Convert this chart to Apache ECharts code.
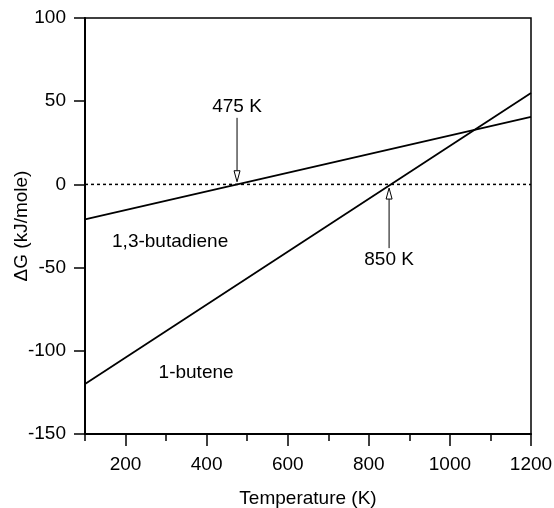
<!DOCTYPE html>
<html>
<head>
<meta charset="utf-8">
<script src="https://cdn.jsdelivr.net/npm/echarts@6/dist/echarts.min.js"></script>
<style>
  html, body { margin: 0; padding: 0; background: #fff; }
  #chart { width: 554px; height: 508px; }
</style>
</head>
<body>
<div id="chart"></div>
<script>
// data
var temps = [100, 1200];
var butadiene = [-21, 40.6];
var butene = [-120, 55];
var zeroLine = [0, 0];

var majorTicks = [200, 400, 600, 800, 1000, 1200];
var minorTicks = [100, 300, 500, 700, 900, 1100];

// arrows: [T, tail value, tip value]
var arrows = [
  [475, 40, 1.6],
  [850, -38.3, -2.2]
];
// text notes: [T, value, text]
var notes = [
  [475, 46.7, "475 K"],
  [850, -45.5, "850 K"],
  [310, -34.5, "1,3-butadiene"],
  [374, -113.5, "1-butene"]
];

var font = "Liberation Sans, Arial, sans-serif";
var fs = 19;

function pairs(xs, ys) {
  return xs.map(function (x, i) { return [x, ys[i]]; });
}

var chart = echarts.init(document.getElementById("chart"));

chart.setOption({
  animation: false,
  textStyle: { fontFamily: font, color: "#000" },
  grid: {
    left: 85,
    right: 23,
    top: 18,
    bottom: 74,
    containLabel: false,
    outerBoundsMode: "none",
    show: true,
    borderColor: "#000",
    borderWidth: 1.5
  },
  xAxis: [
    {
      type: "value",
      min: 100,
      max: 1200,
      interval: 100,
      name: "Temperature (K)",
      nameLocation: "middle",
      nameGap: 55,
      nameMoveOverlap: false,
      nameTextStyle: { fontSize: fs, color: "#000", fontFamily: font },
      axisLine: { onZero: false, lineStyle: { color: "#000", width: 2 } },
      axisTick: {
        inside: false,
        length: 12,
        customValues: majorTicks,
        lineStyle: { color: "#000", width: 1.5 }
      },
      axisLabel: {
        customValues: majorTicks,
        fontSize: fs,
        color: "#000",
        fontFamily: font,
        margin: 21,
        formatter: function (v) { return String(v); }
      },
      splitLine: { show: false }
    },
    {
      type: "value",
      min: 100,
      max: 1200,
      interval: 100,
      position: "bottom",
      axisLine: { show: false, onZero: false },
      axisTick: {
        length: 7,
        customValues: minorTicks,
        lineStyle: { color: "#000", width: 1.5 }
      },
      axisLabel: { show: false },
      splitLine: { show: false }
    }
  ],
  yAxis: {
    type: "value",
    min: -150,
    max: 100,
    interval: 50,
    name: "\u0394G (kJ/mole)",
    nameLocation: "middle",
    nameGap: 54,
    nameMoveOverlap: false,
    nameRotate: 90,
    nameTextStyle: { fontSize: fs, color: "#000", fontFamily: font },
    axisLine: { lineStyle: { color: "#000", width: 2 } },
    axisTick: { length: 11, lineStyle: { color: "#000", width: 1.5 } },
    axisLabel: { fontSize: fs, color: "#000", fontFamily: font, margin: 19 },
    splitLine: { show: false }
  },
  series: [
    {
      type: "line",
      data: pairs(temps, zeroLine),
      symbol: "none",
      lineStyle: { color: "#000", width: 1.5, type: [3, 3] },
      z: 1
    },
    {
      type: "line",
      data: pairs(temps, butadiene),
      symbol: "none",
      lineStyle: { color: "#000", width: 1.8 }
    },
    {
      type: "line",
      data: pairs(temps, butene),
      symbol: "none",
      lineStyle: { color: "#000", width: 1.8 }
    },
    {
      // arrows with open heads
      type: "custom",
      data: arrows,
      renderItem: function (params, api) {
        var a = api.coord([api.value(0), api.value(1)]);
        var b = api.coord([api.value(0), api.value(2)]);
        var dir = b[1] > a[1] ? 1 : -1;
        var baseY = b[1] - dir * 11;
        return {
          type: "group",
          children: [
            {
              type: "line",
              shape: { x1: a[0], y1: a[1], x2: b[0], y2: baseY },
              style: { stroke: "#000", lineWidth: 1 }
            },
            {
              type: "polygon",
              shape: { points: [[b[0], b[1]], [b[0] - 3, baseY], [b[0] + 3, baseY]] },
              style: { fill: "#fff", stroke: "#000", lineWidth: 1 }
            }
          ]
        };
      },
      z: 5
    },
    {
      type: "custom",
      data: notes,
      renderItem: function (params, api) {
        var p = api.coord([api.value(0), api.value(1)]);
        return {
          type: "text",
          x: p[0],
          y: p[1],
          style: {
            text: notes[params.dataIndex][2],
            fill: "#000",
            fontSize: fs,
            fontFamily: font,
            align: "center",
            verticalAlign: "middle"
          }
        };
      },
      z: 6
    }
  ]
});
</script>
</body>
</html>
